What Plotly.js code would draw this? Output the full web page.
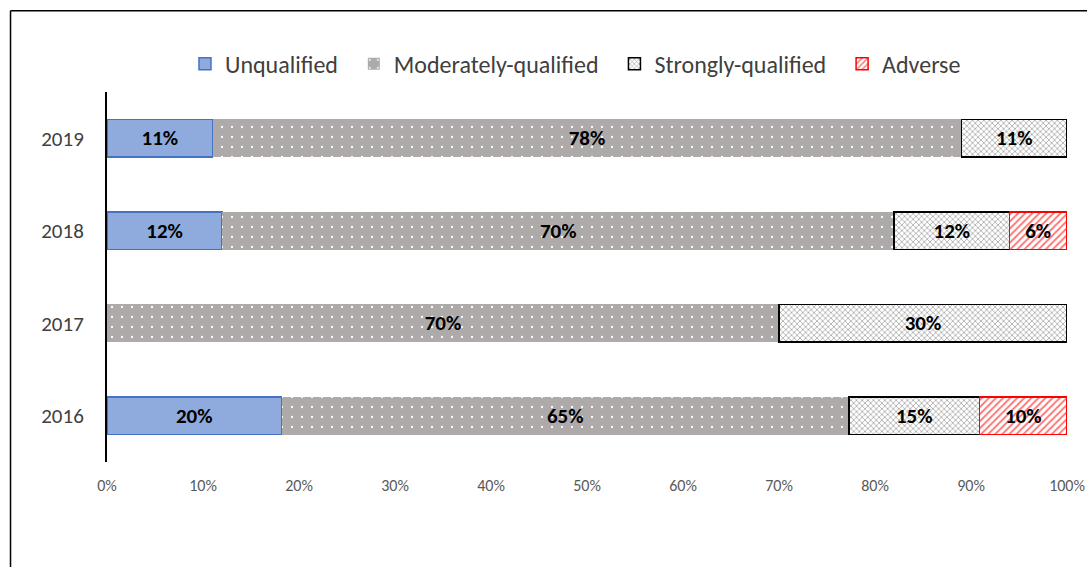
<!DOCTYPE html>
<html>
<head>
<meta charset="utf-8">
<script src="https://cdn.plot.ly/plotly-3.0.1.min.js"></script>
<style>
  html, body { margin: 0; padding: 0; background: #fff; }
  #chart { width: 1087px; height: 567px; }
</style>
</head>
<body>
<div id="chart"></div>
<script>
// Audit opinion mix by year (bottom to top on the category axis)
const years = ['2016', '2017', '2018', '2019'];
const unqualified = [20, null, 12, 11];
const moderatelyQualified = [65, 70, 70, 78];
const stronglyQualified = [15, 30, 12, 11];
const adverse = [10, null, 6, null];
const xTickValues = [0, 10, 20, 30, 40, 50, 60, 70, 80, 90, 100];

const FONT = 'Carlito, Lato, "Open Sans", sans-serif';
const PAD = '\u00a0\u00a0'; // extra room between legend entries

function labels(vals) {
  return vals.map(v => (v === null ? '' : v + '%'));
}

function series(name, vals, marker) {
  return {
    type: 'bar',
    orientation: 'h',
    name: name,
    y: years,
    x: vals,
    text: labels(vals),
    textposition: 'inside',
    insidetextanchor: 'middle',
    textangle: 0,
    constraintext: 'none',
    textfont: { family: FONT, size: 21, color: '#000', weight: 'bold' },
    hoverinfo: 'name+text',
    marker: marker
  };
}

const data = [
  series('Unqualified' + PAD, unqualified, {
    color: '#8faadc',
    line: { color: '#4472c4', width: 1.5 }
  }),
  series('Moderately-qualified' + PAD, moderatelyQualified, {
    color: '#aeaaaa',
    line: { color: '#aeaaaa', width: 0 },
    pattern: { shape: '.', bgcolor: '#aeaaaa', fgcolor: '#ffffff', size: 10, solidity: 0.04, fillmode: 'replace' }
  }),
  series('Strongly-qualified' + PAD, stronglyQualified, {
    color: '#ffffff',
    line: { color: '#000000', width: 1.5 },
    pattern: { shape: 'x', bgcolor: '#ffffff', fgcolor: '#929292', size: 4, solidity: 0.3, fillmode: 'replace' }
  }),
  series('Adverse', adverse, {
    color: '#ffffff',
    line: { color: '#ff0000', width: 1.5 },
    pattern: { shape: '/', bgcolor: '#ffffff', fgcolor: '#ff7070', size: 5, solidity: 0.35, fillmode: 'replace' }
  })
];

const layout = {
  width: 1087,
  height: 567,
  margin: { l: 107, r: 20, t: 92, b: 105 },
  paper_bgcolor: '#ffffff',
  plot_bgcolor: '#ffffff',
  barmode: 'stack',
  barnorm: 'percent',
  bargap: 0.59,
  font: { family: FONT, color: '#404040' },
  showlegend: true,
  legend: {
    orientation: 'h',
    x: 0.488,
    xanchor: 'center',
    y: 1.075,
    yanchor: 'middle',
    traceorder: 'normal',
    font: { family: FONT, size: 24, color: '#404040' },
    itemwidth: 30
  },
  xaxis: {
    range: [0, 100],
    tickvals: xTickValues,
    ticktext: xTickValues.map(v => v + '%'),
    showgrid: false,
    zeroline: false,
    showline: false,
    ticks: '',
    ticklabelstandoff: 12,
    tickfont: { family: FONT, size: 16, color: '#595959' },
    fixedrange: true
  },
  yaxis: {
    type: 'category',
    categoryorder: 'array',
    categoryarray: years,
    range: [-0.5, 3.5],
    showgrid: false,
    zeroline: false,
    showline: true,
    linecolor: '#000000',
    linewidth: 2,
    ticks: '',
    ticklabelstandoff: 17,
    tickfont: { family: FONT, size: 21, color: '#404040' },
    fixedrange: true
  },
  shapes: [
    { type: 'line', xref: 'paper', yref: 'paper', x0: -0.1005, x1: -0.1005, y0: -0.3, y1: 1.2195,
      line: { color: '#000', width: 1.5 } },
    { type: 'line', xref: 'paper', yref: 'paper', x0: -0.1005, x1: 1.03, y0: 1.2195, y1: 1.2195,
      line: { color: '#000', width: 1.5 } }
  ]
};

Plotly.newPlot('chart', data, layout, { displayModeBar: false, staticPlot: true });
</script>
</body>
</html>
